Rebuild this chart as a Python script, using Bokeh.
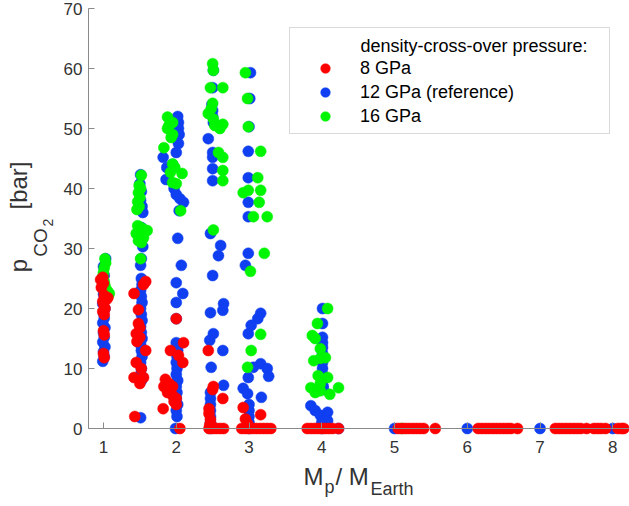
from bokeh.plotting import figure
from bokeh.models import (Range1d, FixedTicker, Legend, LegendItem, Label, BoxAnnotation)
from bokeh.embed import file_html
from bokeh.resources import INLINE
import math

FONT = "Liberation Sans"

# ---------------- data ----------------
# 12 GPa (reference) - blue
blue_x = [0.99, 1.01, 1.00, 1.02, 0.99, 1.01, 1.00, 1.02, 0.99, 1.01, 1.00, 1.02, 0.99, 1.01, 1.00, 1.02, 0.99, 1.01, 1.00, 1.03,
          1.51, 1.50, 1.52, 1.51, 1.53, 1.54, 1.52, 1.50, 1.53, 1.54, 1.52, 1.51, 1.52, 1.53, 1.51, 1.52, 1.53, 1.51, 1.52, 1.53,
          1.51, 1.52, 1.53, 1.51, 1.52, 1.53, 1.51, 1.52, 1.51, 1.52, 1.51,
          2.02, 2.03, 2.03, 2.04, 2.03, 2.00, 1.82, 1.95, 1.87, 1.86, 1.97, 2.00, 2.05, 2.10, 2.04, 2.02, 2.07, 2.00, 2.09, 2.00,
          2.00, 2.00, 2.02, 2.01, 2.00, 2.01, 2.00, 2.02, 2.00, 2.01, 2.00, 2.02, 2.00, 2.01, 1.99,
          2.51, 2.50, 2.49, 2.50, 2.50, 2.51, 2.44, 2.50, 2.50, 2.50, 2.50, 2.47, 2.61, 2.58, 2.50, 2.65, 2.64, 2.47, 2.51, 2.46,
          2.64, 2.48, 2.65, 2.47, 2.47, 2.47, 2.47, 2.47, 2.47, 2.47,
          3.02, 3.01, 3.00, 2.99, 2.99, 2.99, 2.99, 2.99, 2.95, 3.16, 3.12, 3.03, 2.99, 3.16, 3.06, 3.25, 2.99, 3.27, 2.92, 2.98,
          3.17, 3.00, 3.00, 3.00, 3.00, 3.00,
          4.01, 4.01, 4.01, 4.01, 4.01, 4.01, 4.01, 4.01, 4.01, 4.01, 4.02, 4.02, 3.85, 3.91, 3.98, 4.08, 4.08, 4.00, 4.00, 4.23, 4.00,
          5.00, 6.00, 7.00, 8.00]
blue_y = [11.2, 12.0, 12.8, 13.6, 14.4, 15.2, 16.0, 16.8, 17.6, 18.4, 19.2, 20.0, 20.8, 21.6, 22.4, 23.2, 24.0, 25.5, 27.0, 28.3,
          42.3, 40.8, 39.5, 38.0, 37.0, 36.0, 33.5, 32.5, 31.5, 30.3, 28.3, 27.2, 25.0, 24.0, 23.0, 22.0, 21.0, 20.0, 19.0, 18.0,
          17.0, 16.0, 15.0, 14.0, 13.0, 12.0, 11.0, 10.0, 9.0, 8.0, 1.8,
          52.0, 51.0, 50.0, 49.0, 47.5, 46.0, 45.2, 44.0, 43.5, 41.5, 40.0, 39.0, 38.3, 37.7, 36.3, 31.7, 27.2, 24.3, 22.5, 21.0,
          18.3, 14.3, 13.0, 12.0, 11.0, 10.0, 9.0, 8.0, 7.0, 6.0, 5.0, 4.0, 3.0, 2.0, 0.0,
          59.7, 56.8, 54.0, 53.0, 52.0, 51.0, 48.3, 46.0, 45.2, 43.3, 41.3, 32.5, 30.5, 28.8, 25.5, 20.8, 19.7, 19.3, 15.8, 14.7,
          13.0, 10.2, 7.2, 6.0, 5.0, 4.0, 3.0, 2.0, 1.0, 0.0,
          59.3, 55.0, 50.3, 46.2, 41.8, 37.7, 35.3, 29.2, 27.2, 19.2, 18.3, 17.2, 15.8, 10.8, 10.2, 10.0, 8.5, 8.7, 6.7, 5.8,
          5.2, 4.0, 3.0, 2.0, 1.0, 0.0,
          20.0, 17.5, 15.2, 14.3, 13.5, 12.5, 11.0, 10.0, 9.0, 8.0, 7.0, 6.5, 3.8, 3.0, 2.2, 2.7, 1.3, 1.0, 0.5, 0.0, 0.0,
          0.0, 0.0, 0.0, 0.0]

# 16 GPa - green
green_x = [1.02, 1.03, 1.01, 1.00, 0.99, 1.01, 1.02, 1.05, 1.08, 1.06,
           1.52, 1.49, 1.51, 1.48, 1.50, 1.47, 1.49, 1.46, 1.47, 1.51, 1.55, 1.60, 1.45, 1.50, 1.55, 1.48, 1.52, 1.51,
           1.88, 1.95, 1.88, 1.95, 1.83, 1.95, 1.92, 2.08, 1.95, 2.00, 1.98, 2.06, 1.90, 1.93,
           2.50, 2.51, 2.47, 2.64, 2.50, 2.44, 2.51, 2.53, 2.60, 2.64, 2.58, 2.64, 2.64, 2.64, 2.51, 2.48,
           2.95, 2.98, 2.99, 3.16, 3.12, 2.92, 2.99, 3.16, 3.14, 3.06, 3.25, 3.21, 3.02, 3.16, 3.03, 2.98,
           4.08, 3.94, 3.87, 3.91, 3.98, 3.89, 4.05, 3.98, 3.95, 4.08, 3.98, 3.85, 3.91, 3.98, 4.11, 4.23,
           5.10]
green_y = [28.3, 27.6, 26.8, 26.0, 25.3, 24.5, 23.8, 23.0, 22.5, 22.0,
           42.2, 40.5, 40.0, 39.3, 38.5, 37.8, 37.0, 36.5, 33.8, 33.5, 33.2, 33.0, 32.5, 32.0, 31.8, 31.3, 31.0, 28.3,
           51.9, 51.0, 50.0, 49.0, 46.8, 44.1, 42.7, 42.5, 41.0, 40.8, 43.5, 36.3, 50.5, 48.5,
           60.8, 59.7, 56.8, 56.8, 54.2, 52.5, 51.6, 50.5, 50.0, 50.7, 46.0, 45.2, 43.0, 41.3, 33.1, 53.3,
           59.3, 55.0, 50.3, 46.2, 41.8, 39.3, 39.7, 39.7, 37.7, 35.3, 35.3, 29.2, 26.2, 15.7, 13.0, 10.2,
           20.0, 17.5, 15.5, 15.0, 13.3, 11.3, 11.8, 11.7, 8.8, 8.5, 7.5, 6.8, 6.0, 6.3, 5.7, 6.8,
           0.0]

# 8 GPa - red
red_x = [0.96, 0.99, 1.00, 0.97, 1.01, 1.04, 0.99, 1.06, 1.00, 1.02, 0.99, 1.01, 1.00, 1.01, 1.00, 1.01,
         1.58, 1.55, 1.42, 1.48, 1.48, 1.50, 1.45, 1.50, 1.46, 1.58, 1.45, 1.52, 1.42, 1.55, 1.50, 1.43,
         2.00, 2.10, 1.92, 2.03, 2.09, 1.85, 1.90, 1.95, 1.83, 1.88, 1.95, 2.00, 1.97, 2.00, 1.82, 2.05,
         2.44, 2.51, 2.50, 2.64, 2.45, 2.45, 2.47, 2.46, 2.45, 2.50, 2.55, 2.60, 2.65, 2.50,
         2.92, 3.16, 2.95, 2.98, 2.90, 2.95, 3.00, 3.05, 3.10, 3.15, 3.20, 3.25, 3.30,
         3.80, 3.85, 3.90, 3.95, 4.00, 4.05, 4.10, 4.15, 4.23,
         5.05, 5.10, 5.15, 5.20, 5.25, 5.30, 5.35, 5.40, 5.56,
         6.15, 6.20, 6.25, 6.30, 6.35, 6.40, 6.45, 6.50, 6.55, 6.60, 6.69,
         7.21, 7.26, 7.31, 7.36, 7.41, 7.46, 7.51, 7.56, 7.64, 7.74, 7.79, 7.84, 7.90,
         8.07, 8.12, 8.15]
red_y = [24.8, 25.2, 24.2, 23.5, 22.2, 21.5, 21.2, 21.8, 20.8, 20.0, 19.5, 19.0, 16.3, 15.6, 12.5, 11.8,
         24.5, 24.0, 22.5, 19.8, 17.5, 16.8, 15.8, 15.2, 14.5, 13.0, 11.0, 10.0, 8.5, 8.5, 7.5, 2.0,
         18.3, 14.3, 13.0, 12.2, 11.0, 8.2, 7.5, 7.0, 7.0, 6.0, 5.5, 5.0, 4.5, 4.0, 3.3, 0.0,
         13.0, 7.0, 6.5, 5.0, 3.3, 2.5, 1.5, 0.6, 0.0, 0.0, 0.0, 0.0, 0.0, 0.3,
         3.5, 2.3, 1.6, 0.8, 0.0, 0.0, 0.0, 0.0, 0.0, 0.0, 0.0, 0.0, 0.0,
         0.0, 0.0, 0.0, 0.0, 0.0, 0.0, 0.0, 0.0, 0.0,
         0.0, 0.0, 0.0, 0.0, 0.0, 0.0, 0.0, 0.0, 0.0,
         0.0, 0.0, 0.0, 0.0, 0.0, 0.0, 0.0, 0.0, 0.0, 0.0, 0.0,
         0.0, 0.0, 0.0, 0.0, 0.0, 0.0, 0.0, 0.0, 0.0, 0.0, 0.0, 0.0, 0.0,
         0.0, 0.0, 0.0]

series_names = ["8 GPa", "12 GPa (reference)", "16 GPa"]
legend_title = "density-cross-over pressure:"
x_ticks = [1, 2, 3, 4, 5, 6, 7, 8]
y_ticks = [0, 10, 20, 30, 40, 50, 60, 70]
x_axis_min, y_axis_max = 0.794, 70

RED, BLUE, GREEN = "#ff0000", "#0f3ff0", "#00f500"
AXIS_C = "#8a8a8a"
TXT_C = "#333333"

W, H = 629, 506
# the frame fills the whole canvas; the axes sit at fixed data positions inside it
X0 = 1 - 103 / 72.76
X1 = 1 + (W - 103) / 72.76
Y1 = 428 / 6.0
Y0 = -(H - 428) / 6.0

p = figure(width=W, height=H, output_backend="svg", toolbar_location=None,
           x_range=Range1d(X0, X1), y_range=Range1d(Y0, Y1),
           min_border_left=0, min_border_right=0, min_border_top=0, min_border_bottom=0)
p.outline_line_color = None
p.grid.visible = False
p.background_fill_color = "white"
p.border_fill_color = "white"

r_blue = p.scatter(x=blue_x, y=blue_y, size=11, fill_color=BLUE, line_color=BLUE, line_width=0.5)
r_green = p.scatter(x=green_x, y=green_y, size=11, fill_color=GREEN, line_color=GREEN, line_width=0.5)
r_red = p.scatter(x=red_x, y=red_y, size=11, fill_color=RED, line_color=RED, line_width=0.5)

for ax in (p.xaxis[0], p.yaxis[0]):
    ax.axis_line_color = AXIS_C
    ax.axis_line_width = 1
    ax.major_tick_line_color = AXIS_C
    ax.major_tick_in = 6
    ax.major_tick_out = 0
    ax.minor_tick_line_color = None
    ax.major_label_text_font = FONT
    ax.major_label_text_font_size = "17px"
    ax.major_label_text_color = TXT_C

p.xaxis.ticker = FixedTicker(ticks=x_ticks)
p.yaxis.ticker = FixedTicker(ticks=y_ticks)
p.xaxis.fixed_location = 0
p.yaxis.fixed_location = x_axis_min
p.yaxis.bounds = (0, y_axis_max)
p.xaxis.bounds = (x_axis_min, X1)
p.xaxis.major_label_standoff = 12
p.yaxis.major_label_standoff = 6

def lab(text, px, py, size, angle=0.0, color=TXT_C, align="left"):
    p.add_layout(Label(x=px, y=H - py, x_units="screen", y_units="screen", text=text,
                       text_font=FONT, text_font_size=f"{size}px", text_color=color,
                       text_align=align, text_baseline="middle", angle=angle))

# x axis label: M_p / M_Earth  (positions are text middles)
lab("M", 303, 476, 24)
lab("p", 324, 486, 18)
lab("/ M", 335, 476, 24)
lab("Earth", 370, 488, 18)

# y axis label: p_CO2 [bar] (rotated, centred pieces)
A = math.pi / 2
lab("p", 18, 265, 24, A, align="center")
lab("CO", 40, 242, 19, A, align="center")
lab("2", 47, 222, 14, A, align="center")
lab("[bar]", 18, 185, 24, A, align="center")

# legend box
box = BoxAnnotation(left=289, right=609, top=H - 27, bottom=H - 133,
                    left_units="screen", right_units="screen", top_units="screen", bottom_units="screen",
                    fill_color="white", fill_alpha=1.0, line_color="#808080", line_width=1)
p.add_layout(box)
lab(legend_title, 360, 45, 18, 0.0, "black")

legend = Legend(items=[LegendItem(label=series_names[0], renderers=[r_red]),
                       LegendItem(label=series_names[1], renderers=[r_blue]),
                       LegendItem(label=series_names[2], renderers=[r_green])],
                location=(312, H - 128), orientation="vertical",
                glyph_width=26, glyph_height=24, label_standoff=22, spacing=0, padding=0,
                margin=0, border_line_alpha=0, background_fill_alpha=0,
                label_text_font=FONT, label_text_font_size="18px", label_text_color="black",
                label_height=24)
p.add_layout(legend)

open("out.html", "w").write(file_html(p, INLINE))
